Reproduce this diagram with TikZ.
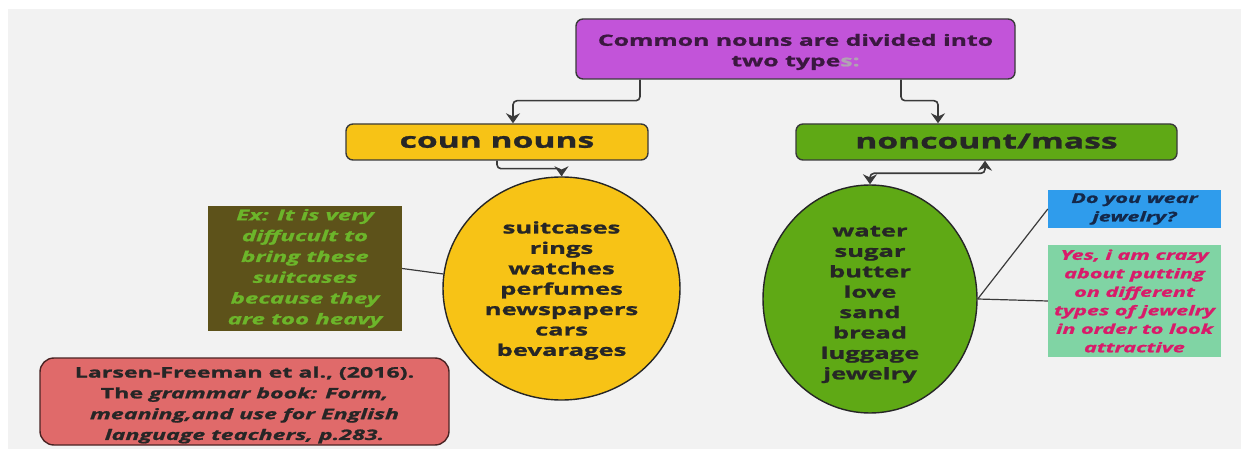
\documentclass[tikz,border=0pt]{standalone}
\usepackage{fontspec}
\setmainfont{Open Sans}[FakeStretch=1.6,BoldFeatures={FakeBold=1.3},BoldItalicFeatures={FakeBold=1.3}]
\usetikzlibrary{arrows.meta,calc,shapes.geometric}
\definecolor{bggray}{HTML}{F2F2F2}
\definecolor{purp}{HTML}{C254D9}
\definecolor{purptext}{HTML}{3B1840}
\definecolor{yel}{HTML}{F7C316}
\definecolor{grn}{HTML}{5FA915}
\definecolor{olive}{HTML}{5D521A}
\definecolor{olivetext}{HTML}{6CB52A}
\definecolor{redbox}{HTML}{E06A6A}
\definecolor{redborder}{HTML}{4A2424}
\definecolor{bluebox}{HTML}{2F9CEC}
\definecolor{bluetext}{HTML}{14284A}
\definecolor{tealbox}{HTML}{80D4A4}
\definecolor{magtext}{HTML}{D81B6A}
\definecolor{linec}{HTML}{3A3A3A}
\tikzset{
  boxbase/.style={draw=linec, line width=1.4pt, rounded corners=7pt, align=center, inner sep=0pt, font=\bfseries},
  listell/.style={ellipse, draw=black!85, line width=1.4pt, inner sep=0pt},
  listtext/.style={align=center, inner sep=0pt, text=black!85, font=\bfseries\fontsize{16}{20.4}\selectfont},
  plainbox/.style={align=center, inner sep=0pt, font=\bfseries\itshape},
  tip/.style={Stealth[length=10pt,width=14pt]},
  arr/.style={draw=linec, line width=1.6pt, rounded corners=4pt, -{Stealth[length=10pt,width=14pt]}},
  dblarr/.style={draw=linec, line width=1.6pt, rounded corners=4pt, {Stealth[length=10pt,width=14pt]}-{Stealth[length=10pt,width=14pt]}},
  conn/.style={draw=linec, line width=1.2pt}
}
\begin{document}
\begin{tikzpicture}[x=1pt,y=-1pt]
\useasboundingbox (0,0) rectangle (1247,454);
\fill[white] (0,0) rectangle (1247,454);
\fill[bggray] (8,9) rectangle (1241,449);

\node[boxbase, fill=purp, minimum width=439pt, minimum height=60pt] (top) at (795.5,49) {};
\node[align=center, inner sep=0pt, text=purptext, font=\bfseries\fontsize{15.5}{20.5}\selectfont] (toptext) at (795.5,52)
  {Common nouns are divided into\\two type\textcolor{purptext!40}{s:}};

\node[boxbase, fill=yel, text=black!85, minimum width=302pt, minimum height=36pt,
  font=\bfseries\fontsize{21}{24}\selectfont] (coun) at (497,142) {coun nouns};
\node[boxbase, fill=grn, text=black!85, minimum width=381pt, minimum height=36pt,
  font=\bfseries\fontsize{21}{24}\selectfont] (nonc) at (986.5,142) {\raisebox{2pt}{noncount/mass}};

\node[listell, fill=yel, minimum width=237pt, minimum height=223pt] (yell) at (561.5,288.5) {};
\node[listtext] (ytext) at (561.5,290.5)
  {suitcases\\rings\\watches\\perfumes\\newspapers\\cars\\bevarages};
\node[listell, fill=grn, minimum width=214pt, minimum height=228pt] (gell) at (870,299) {};
\node[listtext] (gtext) at (870,304.5)
  {water\\sugar\\butter\\love\\sand\\bread\\luggage\\jewelry};

\node[plainbox, fill=olive, text=olivetext, minimum width=194pt, minimum height=125pt,
  font=\bfseries\itshape\fontsize{15}{20.8}\selectfont] (ex) at (305,268.5)
  {Ex: It is very\\diffucult to\\bring these\\suitcases\\because they\\are too heavy};

\node[boxbase, draw=redborder, rounded corners=14pt, fill=redbox, minimum width=409pt, minimum height=87pt] (ref) at (244.5,401.5) {};
\node[align=center, inner sep=0pt, text=black!85, font=\bfseries\fontsize{14.5}{20.8}\selectfont] (reftext) at (244.5,405)
  {Larsen-Freeman et al., (2016).\\The \textit{grammar book: Form,}\\\textit{meaning,and use for English}\\\textit{language teachers, p.283.}};

\node[plainbox, fill=bluebox, text=bluetext, minimum width=173pt, minimum height=38pt,
  font=\bfseries\itshape\fontsize{13.5}{18.5}\selectfont] (q) at (1134.5,209)
  {Do you wear\\jewelry?};
\node[plainbox, fill=tealbox, text=magtext, minimum width=173pt, minimum height=112pt,
  font=\bfseries\itshape\fontsize{13.5}{18.5}\selectfont] (ans) at (1134.5,301)
  {Yes, i am crazy\\about putting\\on different\\types of jewelry\\in order to look\\attractive};

% connectors
\draw[arr] ($(top.south)+(-155.5,0)$) -- ++(0,21) -| ($(coun.north)+(16,0)$);
\draw[arr] ($(top.south)+(105.5,0)$) -- ++(0,21) -| ($(nonc.north)+(-48.5,0)$);
\draw[arr] (coun.south) -- ++(0,8) -| (yell.north);
\draw[dblarr] (gell.north) -- ++(0,-11) -| ($(nonc.south)+(-1.5,0)$);
\draw[conn] (ex.east) -- (yell.173);
\draw[conn] (gell.east) -- (q.west);
\draw[conn] (gell.east) -- (ans.west);
\end{tikzpicture}
\end{document}
